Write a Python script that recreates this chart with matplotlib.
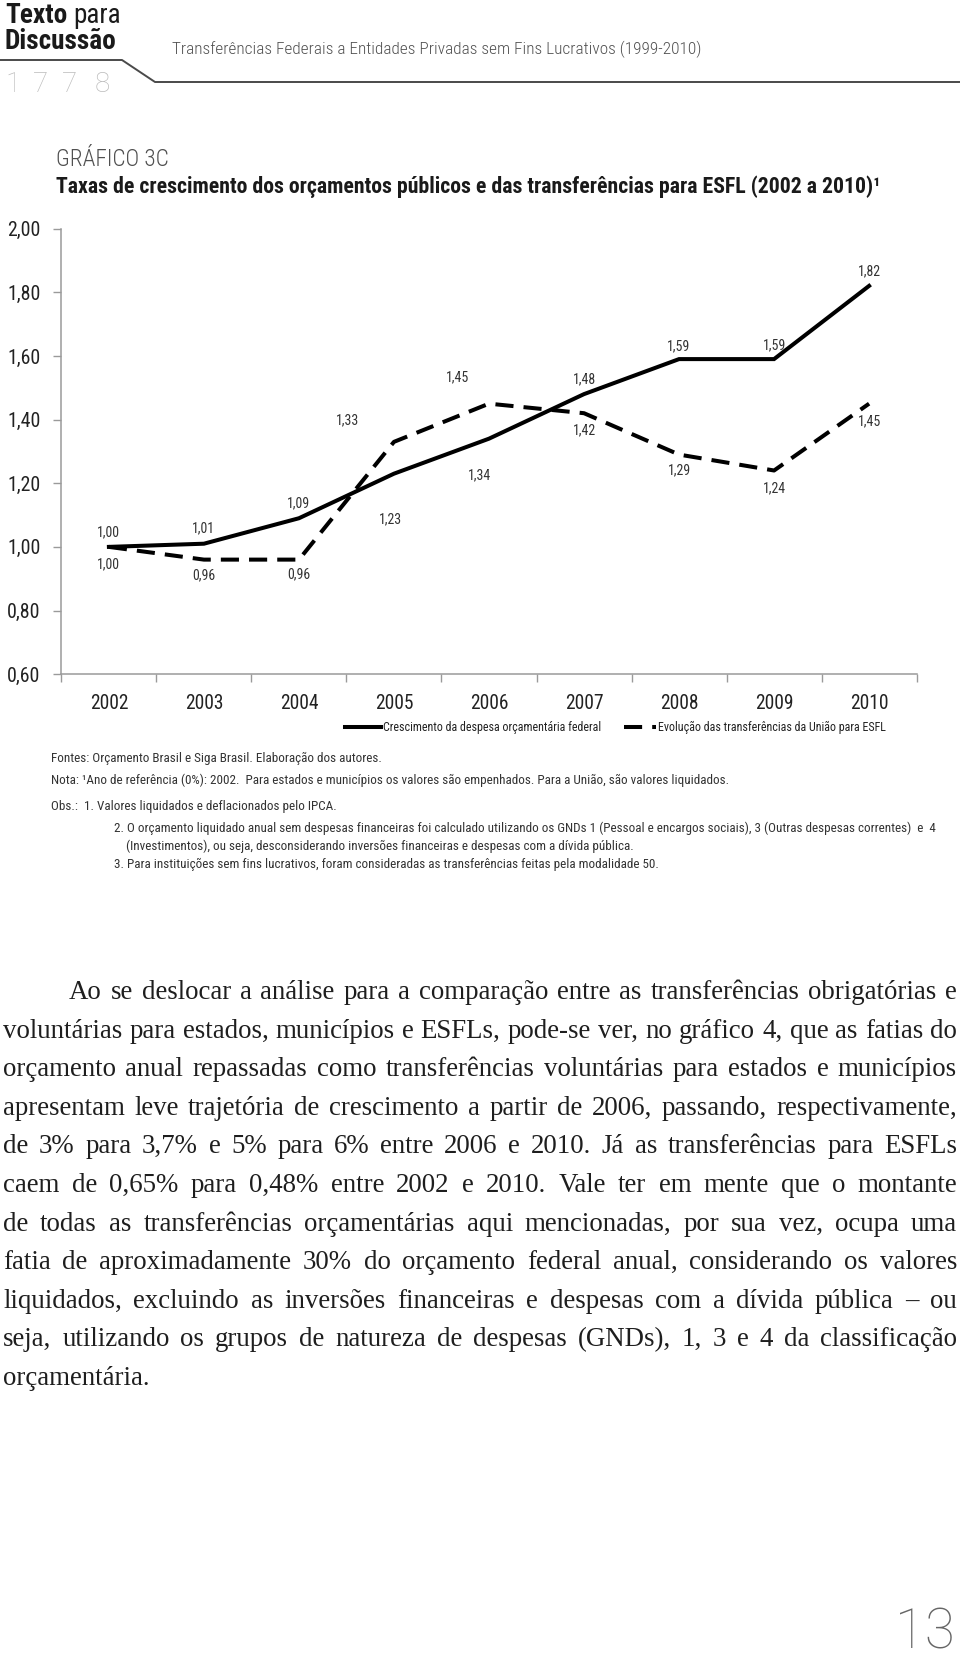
import matplotlib
matplotlib.use("Agg")
import matplotlib.pyplot as plt
import matplotlib.ticker as mticker
from matplotlib.lines import Line2D

# ─── Dados do gráfico ────────────────────────────────────────────────────────
anos = ["2002", "2003", "2004", "2005", "2006", "2007", "2008", "2009", "2010"]
despesa_federal = [1.00, 1.01, 1.09, 1.23, 1.34, 1.48, 1.59, 1.59, 1.82]
transf_esfl = [1.00, 0.96, 0.96, 1.33, 1.45, 1.42, 1.29, 1.24, 1.45]
y_ticks = [0.60, 0.80, 1.00, 1.20, 1.40, 1.60, 1.80, 2.00]

# deslocamento dos rótulos (pixels) em relação a cada ponto
desl_despesa = [(0, 15), (0, 15), (0, 15), (-3, -46), (-9, -37), (0, 15), (0, 13), (0, 14), (0, 15)]
desl_esfl = [(0, -17), (0, -16), (0, -15), (-46, 22), (-31, 26), (0, -17), (0, -16), (0, -18), (0, -18)]

nome_despesa = "Crescimento da despesa orçamentária federal"
nome_esfl = "Evolução das transferências da União para ESFL"

notas = [
    "Fontes: Orçamento Brasil e Siga Brasil. Elaboração dos autores.",
    "Nota: ¹Ano de referência (0%): 2002.  Para estados e municípios os valores são empenhados. Para a União, são valores liquidados.",
    "Obs.:  1. Valores liquidados e deflacionados pelo IPCA.",
    "2. O orçamento liquidado anual sem despesas financeiras foi calculado utilizando os GNDs 1 (Pessoal e encargos sociais), 3 (Outras despesas correntes)  e  4",
    "(Investimentos), ou seja, desconsiderando inversões financeiras e despesas com a dívida pública.",
    "3. Para instituições sem fins lucrativos, foram consideradas as transferências feitas pela modalidade 50.",
]

corpo = [
    "Ao se deslocar a análise para a comparação entre as transferências obrigatórias e",
    "voluntárias para estados, municípios e ESFLs, pode-se ver, no gráfico 4, que as fatias do",
    "orçamento anual repassadas como transferências voluntárias para estados e municípios",
    "apresentam leve trajetória de crescimento a partir de 2006, passando, respectivamente,",
    "de 3% para 3,7% e 5% para 6% entre 2006 e 2010. Já as transferências para ESFLs",
    "caem de 0,65% para 0,48% entre 2002 e 2010. Vale ter em mente que o montante",
    "de todas as transferências orçamentárias aqui mencionadas, por sua vez, ocupa uma",
    "fatia de aproximadamente 30% do orçamento federal anual, considerando os valores",
    "liquidados, excluindo as inversões financeiras e despesas com a dívida pública – ou",
    "seja, utilizando os grupos de natureza de despesas (GNDs), 1, 3 e 4 da classificação",
    "orçamentária.",
]

# ─── Estilo ──────────────────────────────────────────────────────────────────
NARROW = ["Roboto Condensed", "Liberation Sans Narrow", "Roboto", "DejaVu Sans"]
SERIF = ["Liberation Serif", "DejaVu Serif"]
LIGHT = ["Roboto", "DejaVu Sans"]
plt.rcParams["font.family"] = NARROW

W, H = 960, 1660
GRAY = "#9a9a9a"
LW = 2.9
DASH = (0, (4.5, 2.5))


def fx(px):
    return px / W


def fy(py):
    return 1 - py / H


fig = plt.figure(figsize=(W / 100, H / 100), dpi=100)
fig.patch.set_facecolor("white")
renderer = fig.canvas.get_renderer()


def largura(s, size, **kw):
    tt = fig.text(0, 0, s, fontsize=size, **kw)
    w = tt.get_window_extent(renderer).width
    tt.remove()
    return w


def tamanho(s, alvo, **kw):
    # tamanho de fonte para que o texto ocupe 'alvo' pixels de largura
    return 10 * alvo / largura(s, 10, **kw)


# ─── Cabeçalho ───────────────────────────────────────────────────────────────
s_cab = tamanho("Discussão", 112, fontweight="bold")
t = fig.text(fx(5), fy(23), "Texto", fontsize=s_cab, fontweight="bold", color="#1a1a1a", va="baseline")
w_texto = t.get_window_extent(renderer).width
fig.text(fx(5 + w_texto + 6), fy(23), "para", fontsize=s_cab, color="#1a1a1a", va="baseline")
fig.text(fx(5), fy(49), "Discussão", fontsize=s_cab, fontweight="bold", color="#1a1a1a", va="baseline")
for d, xd in zip("1778", [5, 33, 62, 95]):
    fig.text(fx(xd), fy(92), d, fontsize=20, color="#bcbcbc", va="baseline", family=LIGHT, fontweight="light")
fig.add_artist(Line2D([fx(0), fx(122), fx(155), fx(960)], [fy(60), fy(60), fy(82), fy(82)],
                      transform=fig.transFigure, color="#4a4a4a", lw=1.4))
subtitulo = "Transferências Federais a Entidades Privadas sem Fins Lucrativos (1999-2010)"
fig.text(fx(172), fy(49), subtitulo, fontsize=tamanho(subtitulo, 529, fontweight="light"),
         fontweight="light", color="#505050", va="center")

fig.text(fx(56), fy(159), "GRÁFICO 3C", fontsize=tamanho("GRÁFICO 3C", 113, fontweight="light"),
         fontweight="light", color="#505050", va="center")
titulo = "Taxas de crescimento dos orçamentos públicos e das transferências para ESFL (2002 a 2010)¹"
fig.text(fx(56), fy(187), titulo, fontsize=tamanho(titulo, 826, fontweight="bold"),
         fontweight="bold", color="#1a1a1a", va="center")

# ─── Gráfico ─────────────────────────────────────────────────────────────────
ax = fig.add_axes([fx(61.4), fy(674.2), fx(916.6) - fx(61.4), (674.2 - 228.6) / H])
x = list(range(len(anos)))
ax.plot(x, despesa_federal, color="black", lw=LW, solid_joinstyle="miter", zorder=3)
ax.plot(x, transf_esfl, color="black", lw=LW, linestyle=DASH, dash_capstyle="butt", zorder=3)

s_rot = tamanho("1,00", 23)
for xi, v, (dx, dy) in zip(x, despesa_federal, desl_despesa):
    ax.annotate(f"{v:.2f}".replace(".", ","), (xi, v), xytext=(dx, dy), textcoords="offset pixels",
                ha="center", va="center", fontsize=s_rot, color="#333333")
for xi, v, (dx, dy) in zip(x, transf_esfl, desl_esfl):
    ax.annotate(f"{v:.2f}".replace(".", ","), (xi, v), xytext=(dx, dy), textcoords="offset pixels",
                ha="center", va="center", fontsize=s_rot, color="#333333")

ax.set_xlim(-0.5, len(anos) - 0.5)
ax.set_ylim(y_ticks[0], y_ticks[-1])
ax.set_yticks(y_ticks)
ax.yaxis.set_major_formatter(mticker.FuncFormatter(lambda v, _: f"{v:.2f}".replace(".", ",")))
ax.set_xticks(x)
ax.set_xticklabels(anos)
ax.set_xticks([i - 0.5 for i in range(len(anos) + 1)], minor=True)
ax.tick_params(axis="x", which="major", length=0, pad=14, labelsize=tamanho("2002", 38), labelcolor="#222222")
ax.tick_params(axis="x", which="minor", length=6, width=1, color=GRAY)
ax.tick_params(axis="y", length=6, width=1, color=GRAY, pad=9, labelsize=tamanho("2,00", 33),
               labelcolor="#222222")
for s in ["top", "right"]:
    ax.spines[s].set_visible(False)
for s in ["left", "bottom"]:
    ax.spines[s].set_color(GRAY)
    ax.spines[s].set_linewidth(1.1)
ax.patch.set_alpha(0)

# Legenda
ly = 727
s_leg = tamanho(nome_despesa, 217)
fig.add_artist(Line2D([fx(345), fx(381)], [fy(ly), fy(ly)], transform=fig.transFigure, color="black", lw=LW))
fig.text(fx(383), fy(ly), nome_despesa, fontsize=s_leg, color="#222222", va="center")
fig.add_artist(Line2D([fx(624), fx(656)], [fy(ly), fy(ly)], transform=fig.transFigure, color="black",
                      lw=LW, linestyle=DASH, dash_capstyle="butt"))
fig.text(fx(658), fy(ly), nome_esfl, fontsize=s_leg, color="#222222", va="center")

# Notas
nota_pos = [(51, 758), (51, 780), (51, 806), (114, 828), (126, 846), (114, 864)]
s_nota = tamanho(notas[3], 910 - nota_pos[3][0]) * 1.025
for txt, (nx, ny) in zip(notas, nota_pos):
    fig.text(fx(nx), fy(ny), txt, fontsize=s_nota, color="#333333", va="center")

# ─── Texto corrido justificado ───────────────────────────────────────────────
X_INI, X_FIM, RECUO = 3, 957, 69
BASE0, PASSO = 999, 38.6
ref = 18
esp_ref = largura("n n", ref, family=SERIF) - largura("nn", ref, family=SERIF)
fator = 10.0
for i, linha in enumerate(corpo[:-1]):
    x0 = RECUO if i == 0 else X_INI
    pal = linha.split()
    nat = sum(largura(p, ref, family=SERIF) for p in pal) + esp_ref * (len(pal) - 1)
    fator = min(fator, (X_FIM - x0) / nat)
tam = ref * fator * 0.995
esp = largura("n n", tam, family=SERIF) - largura("nn", tam, family=SERIF)

for i, linha in enumerate(corpo):
    x0 = RECUO if i == 0 else X_INI
    yb = BASE0 + i * PASSO
    pal = linha.split()
    ws = [largura(p, tam, family=SERIF) for p in pal]
    if i < len(corpo) - 1 and len(pal) > 1:
        gap = (X_FIM - x0 - sum(ws)) / (len(pal) - 1)
    else:
        gap = esp
    xc = x0
    for p, w in zip(pal, ws):
        fig.text(fx(xc), fy(yb), p, fontsize=tam, family=SERIF, color="#1e1e1e", va="baseline")
        xc += w + gap

# Número da página
fig.text(fx(955), fy(1648), "13", fontsize=tamanho("13", 60, family=LIGHT, fontweight="light"),
         color="#666666", ha="right", va="baseline", family=LIGHT, fontweight="light")

fig.savefig("out.png", dpi=100)
